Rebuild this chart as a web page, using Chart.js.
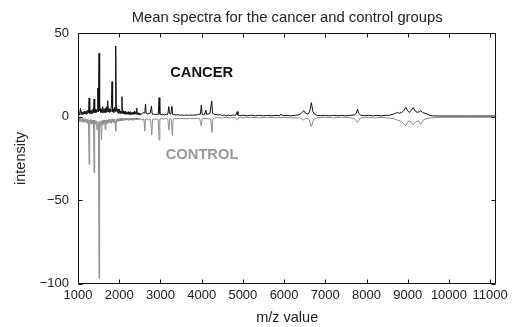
<!DOCTYPE html>
<html>
<head>
<meta charset="utf-8">
<script src="https://cdn.jsdelivr.net/npm/chart.js@4.4.1/dist/chart.umd.min.js"></script>
<style>
html,body{margin:0;padding:0;background:#fff;}
#wrap{width:512px;height:327px;position:relative;}
</style>
</head>
<body>
<div id="wrap"><canvas id="c"></canvas></div>
<script>
// ---- data ----
const cancerMz = [1000,1015,1030,1045,1060,1075,1090,1105,1120,1135,1150,1165,1180,1195,1210,1225,1240,1255,1270,1285,1300,1315,1330,1345,1360,1375,1390,1405,1420,1435,1450,1465,1480,1495,1510,1525,1540,1555,1570,1585,1600,1615,1630,1645,1660,1675,1690,1705,1720,1735,1750,1765,1780,1795,1810,1825,1840,1855,1870,1885,1900,1915,1930,1945,1960,1975,1990,2005,2020,2035,2050,2065,2080,2095,2110,2125,2140,2155,2170,2185,2200,2215,2230,2245,2260,2275,2290,2305,2320,2335,2350,2365,2380,2395,2410,2425,2440,2455,2470,2485,2500,
  2530,2560,2600,2620,2638,2655,2690,2720,2750,2783,2800,2840,2880,2920,2945,2968,2985,3020,3060,3100,3140,3180,3202,3220,3250,3280,3295,3330,3380,3430,3480,3530,3580,3630,3680,3730,3780,3830,3880,3930,3970,3993,4010,4050,4075,4100,4120,4160,4200,4245,4265,4300,4350,4400,4450,4500,4550,4600,4650,4700,4750,4800,4830,4860,4880,4930,5000,5100,5200,5300,5400,5500,5600,5700,5800,5900,5930,5960,6050,6150,6250,6350,6420,6475,6520,6580,6620,6662,6700,6740,6800,6900,7000,7100,7200,7300,7400,7500,7600,7700,7750,7782,7810,7860,7950,8050,8150,8250,8350,8450,8550,8650,8700,8750,8800,8850,8900,8953,9000,9040,9090,9130,9180,9230,9280,9316,9360,9420,9480,9530,9600,9800,10000,10200,10400,10600,10800,11000,11150];
const cancerInt = [0.5,3,1,2.5,5,1.5,3,1.2,2.8,1.5,3.2,1.8,3,1.5,3.5,2,4,2.2,11.2,2,3.5,1.8,3.8,2,4.5,2.5,10.6,2.5,4.5,2.5,4,3,17.2,3,38,3.5,5,2.5,4.5,2.5,6,2.5,4.5,2.5,5,2.5,6,3,9.6,3,5,2.5,4.5,3,6.5,21,3,4.5,2.5,5.5,3,42.4,3.5,5,2.5,4.5,2,4.5,2,3.5,2,12,2,3.5,1.8,3,1.5,3.2,1.5,2.8,1.5,3,1.5,2.5,1.2,3,1.5,2.5,1.2,2.8,1.5,3.2,1.5,2.5,1.5,5.2,1.5,2.5,1.2,2.2,1.2,
  1.5,2,2.5,2,7.6,2,1.5,2,2,6.4,1.5,1.5,1.2,1.5,1.2,11.4,1.5,1.2,1.5,1,1.5,1.5,6,2,1.5,6.2,1.5,1.2,1,1.2,0.8,1,0.8,1,0.8,1,0.8,1,1,1.5,1.5,7,1.5,1.2,1.5,4,1.5,1.5,2,9.4,2,1.5,1.2,1,1.2,0.7,1,0.6,1,0.6,1,0.8,1,3,1,0.6,0.9,0.5,0.9,0.5,0.8,0.5,0.8,0.5,0.8,0.6,1.6,0.6,0.8,0.5,0.8,1,2,3.6,2,1.5,3,8.4,3,1.5,0.8,0.6,0.8,0.5,0.8,0.5,0.8,0.5,0.8,1,2,4.4,2,0.8,0.6,0.8,0.5,0.8,0.5,0.8,0.8,1.5,2,2.5,2,2.5,3.5,5.6,3.5,2.5,4,5.4,3.5,2.5,3,3.6,2.5,2,1.5,0.8,0.5,0.4,0.4,0.4,0.4,0.4,0.4,0.4,0.4];

const controlMz = [1000,1015,1030,1045,1060,1075,1090,1105,1120,1135,1150,1165,1180,1195,1210,1225,1240,1255,1270,1285,1300,1315,1330,1345,1360,1375,1390,1405,1420,1435,1450,1465,1480,1495,1510,1525,1540,1555,1570,1585,1600,1615,1630,1645,1660,1675,1690,1705,1720,1735,1750,1765,1780,1795,1810,1825,1840,1855,1870,1885,1900,1915,1930,1945,1960,1975,1990,2005,2020,2035,2050,2065,2080,2095,2110,2125,2140,2155,2170,2185,2200,2215,2230,2245,2260,2275,2290,2305,2320,2335,2350,2365,2380,2395,2410,2425,2440,2455,2470,2485,2500,
  2550,2600,2621,2640,2680,2720,2760,2790,2810,2850,2900,2945,2967,2985,3030,3080,3130,3180,3205,3225,3260,3290,3310,3350,3400,3500,3600,3700,3800,3900,3950,3993,4015,4080,4150,4220,4250,4270,4320,4400,4500,4600,4700,4800,4864,4900,5000,5200,5400,5600,5800,6000,6200,6400,6475,6520,6600,6662,6720,6800,7000,7200,7400,7600,7700,7782,7850,8000,8200,8400,8650,8750,8850,8953,9000,9050,9130,9200,9260,9316,9380,9450,9550,9700,9900,10200,10500,10800,11150];
const controlInt = [-0.5,-2.5,-0.8,-3,-1,-2.8,-1.2,-3,-1,-3.5,-1.5,-3,-1.2,-3.5,-1.5,-4,-1.5,-3.5,-28.5,-2,-4,-1.5,-4.5,-2,-4,-2,-33.6,-2,-4.5,-2.5,-5,-8,-3,-4.5,-97,-3,-5,-2.5,-13.7,-2.5,-5,-2,-4,-2,-7.7,-2,-4.5,-2,-4,-1.8,-3.5,-1.5,-3.5,-1.5,-4,-1.5,-3,-1.5,-3.5,-1.5,-3,-8.7,-1.5,-3,-1.2,-2.8,-1.2,-2.5,-1,-2.5,-1,-2.5,-1,-2.2,-1,-2,-0.8,-2.2,-0.8,-2,-1,-2.2,-0.8,-2,-0.8,-2,-1,-2.2,-0.8,-2,-1,-2,-0.8,-1.8,-0.8,-2,-0.8,-1.8,-1,-1.8,-0.8,
  -2,-1.5,-8.7,-1.5,-1.5,-2,-1.5,-11,-1.5,-1.5,-1.5,-1.5,-14,-1.5,-1,-1.5,-1,-1.5,-8,-1.5,-1.5,-11.3,-1.5,-1,-1.2,-1,-1.2,-1,-1.2,-1,-1,-5.7,-1,-1,-1.2,-1.5,-9.5,-1.5,-0.8,-0.5,-0.8,-0.4,-0.7,-0.5,-1.8,-0.5,-0.7,-0.4,-0.7,-0.4,-0.7,-0.4,-0.7,-0.8,-2,-1,-1.5,-6,-1.5,-0.6,-0.4,-0.7,-0.4,-0.6,-1,-3.4,-0.8,-0.5,-0.7,-0.5,-1.2,-2,-3,-5.3,-3,-2.5,-5,-3,-2.5,-4.5,-2,-1.2,-0.8,-0.5,-0.4,-0.4,-0.4,-0.4,-0.4];

const xTicks = [1000,2000,3000,4000,5000,6000,7000,8000,9000,10000,11000];
const yTicks = [50,0,-50,-100];
const seriesNames = ['CANCER','CONTROL'];
const labelMz = [4000,4010];
const labelInt = [26,-23];
// ---------------------------------------------

const toPts = (xs, ys) => xs.map((x, i) => ({x: x, y: ys[i]}));

const framePlugin = {
  id: 'frame',
  afterDatasetsDraw(chart) {
    const ctx = chart.ctx;
    const a = chart.chartArea;
    const xs = chart.scales.x, ys = chart.scales.y;
    ctx.save();
    ctx.strokeStyle = '#111';
    ctx.lineWidth = 1;
    ctx.beginPath();
    const L = Math.round(a.left) + 0.5, R = Math.round(a.right) - 0.5;
    const T = Math.round(a.top) + 0.5, B = Math.round(a.bottom) - 0.5;
    ctx.rect(L, T, R - L, B - T);
    const tl = 4;
    xTicks.forEach(v => {
      const px = Math.round(xs.getPixelForValue(v)) + 0.5;
      ctx.moveTo(px, B); ctx.lineTo(px, B - tl);
      ctx.moveTo(px, T); ctx.lineTo(px, T + tl);
    });
    yTicks.forEach(v => {
      const py = Math.round(ys.getPixelForValue(v)) + 0.5;
      ctx.moveTo(L, py); ctx.lineTo(L + tl, py);
      ctx.moveTo(R, py); ctx.lineTo(R - tl, py);
    });
    ctx.stroke();
    ctx.font = 'bold 14.7px "Liberation Sans", Arial, sans-serif';
    ctx.textAlign = 'center';
    ctx.textBaseline = 'middle';
    const cols = ['#111', '#999'];
    seriesNames.forEach((n, i) => {
      ctx.fillStyle = cols[i];
      ctx.fillText(n, xs.getPixelForValue(labelMz[i]), ys.getPixelForValue(labelInt[i]));
    });
    ctx.restore();
  }
};

const fam = '"Liberation Sans", Arial, sans-serif';
const font = {family: fam, size: 13};
const tfont = {family: fam, size: 14.5};

new Chart(document.getElementById('c'), {
  type: 'scatter',
  data: {
    datasets: [
      {label: 'cancer', data: toPts(cancerMz, cancerInt), showLine: true, borderColor: '#111', borderWidth: 1, pointRadius: 0, tension: 0, order: 0},
      {label: 'control', data: toPts(controlMz, controlInt), showLine: true, borderColor: '#8c8c8c', borderWidth: 1, pointRadius: 0, tension: 0, order: 1}
    ]
  },
  options: {
    responsive: true,
    maintainAspectRatio: false,
    animation: false,
    layout: {padding: {top: 0, right: 14.3, bottom: 0, left: 0}},
    plugins: {
      legend: {display: false},
      tooltip: {enabled: false},
      title: {
        display: true,
        text: 'Mean spectra for the cancer and control groups',
        fullSize: false,
        color: '#222',
        font: {family: fam, size: 14.8, weight: 'normal'},
        padding: {top: 9, bottom: 6.5}
      }
    },
    scales: {
      x: {
        type: 'linear',
        min: 1000,
        max: 11150,
        grid: {display: false, drawTicks: false},
        border: {display: false},
        afterBuildTicks: s => { s.ticks = xTicks.map(v => ({value: v})); },
        afterFit: s => { s.height = 43.5; },
        ticks: {color: '#222', font: font, padding: 4, maxRotation: 0, autoSkip: false,
                callback: v => String(v)},
        title: {display: true, text: 'm/z value', color: '#222', font: tfont, padding: {top: 0, bottom: 0}}
      },
      y: {
        type: 'linear',
        min: -100,
        max: 50,
        grid: {display: false, drawTicks: false},
        border: {display: false},
        afterBuildTicks: s => { s.ticks = yTicks.map(v => ({value: v})); },
        afterFit: s => { s.width = 78; },
        ticks: {color: '#222', font: font, padding: 9, autoSkip: false,
                callback: v => String(v).replace('-', '\u2212')},
        title: {display: true, text: 'intensity', color: '#222', font: tfont, padding: {top: 12.3, bottom: 0}}
      }
    }
  },
  plugins: [framePlugin]
});
</script>
</body>
</html>
